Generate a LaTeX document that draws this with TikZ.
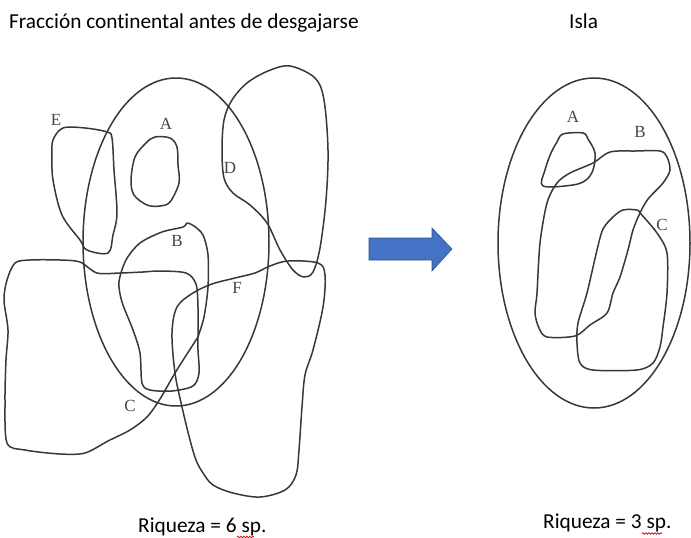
\documentclass[tikz,border=0pt]{standalone}
\usepackage{fontspec}
\setmainfont{Carlito}[Ligatures=NoCommon]
\newfontfamily\lblfont{Liberation Serif}
\usetikzlibrary{decorations.pathmorphing}
\tikzset{
  blob/.style={draw=black!78, line width=1.5pt, line join=round},
  lbl/.style={font=\lblfont\fontsize{17}{17}\selectfont, text=black!72, inner sep=0pt},
  ttl/.style={font=\fontsize{21.3}{21.3}\selectfont, inner sep=0pt, anchor=base west},
  squig/.style={draw=red!80!black, line width=0.7pt, decorate, decoration={snake, amplitude=0.8pt, segment length=3pt}}
}
\begin{document}
\begin{tikzpicture}[x=1pt,y=-1pt]
\useasboundingbox (0,0) rectangle (691,538);
\fill[white] (0,0) rectangle (691,538);

% titles
\node[ttl] (t1) at (9,28) {Fracción continental antes de desgajarse};
\node[ttl] (t2) at (569,28) {Isla};
\node[ttl] (r1) at (138,532.5) {Riqueza = 6 sp.};
\node[ttl] (r2) at (543,528) {Riqueza = 3 sp.};
\draw[squig] (237,537) -- (254,537);
\draw[squig] (642,533.5) -- (662,533.5);

% ----- left diagram -----
\draw[blob] (176,242) ellipse [x radius=93, y radius=164];

% E
\draw[blob] plot[smooth cycle, tension=0.55] coordinates {
 (53,140) (63,128) (85,128) (107,132) (112,138) (114,170) (117,213)
 (113,235) (108,253) (87,250) (80,240) (62,215) (53,180) (52,155)};
% A
\draw[blob] plot[smooth cycle, tension=0.55] coordinates {
 (155,137) (170,138) (177,147) (178,165) (179,183) (170,202) (160,206)
 (147,205) (134,195) (131,180) (135,157) (146,143)};
% D
\draw[blob] plot[smooth cycle, tension=0.55] coordinates {
 (290,66) (315,78) (324,100) (328,150) (326,200) (320,248) (313,272)
 (304,277) (293,270) (280,250) (267,223) (250,205) (233,193) (224,178)
 (222,150) (224,120) (232,100) (247,83) (268,71)};
% B
\draw[blob] plot[smooth, tension=0.5] coordinates {
 (198,337) (204,317) (208,287) (208,255) (203,235) (194,226) (187,223)
 (183,227) (162,232) (140,243) (126,260) (119,282) (122,302) (133,330)
 (140,353) (142,383) (150,390) (172,391) (193,386) (199,373) (198,350) (198,337)};
% C
\draw[blob] plot[smooth, tension=0.5] coordinates {
 (198,337) (198,307) (196,284) (186,273) (160,271) (143,272) (120,273)
 (97,273) (80,262) (60,260) (30,260) (15,263) (7,280) (4,300) (8,330)
 (6,360) (5,400) (7,443) (25,450) (60,454) (85,453) (108,441) (130,430)
 (147,417) (160,399) (175,373) (187,354) (198,337)};
% F
\draw[blob] plot[smooth cycle, tension=0.55] coordinates {
 (288,261) (318,263) (325,275) (323,307) (313,350) (305,375) (302,407)
 (299,450) (296,475) (285,490) (260,497) (233,493) (213,485) (203,473)
 (196,460) (190,440) (182,407) (175,373) (172,333) (177,307) (193,293)
 (212,284) (235,278) (255,273) (270,266)};

\node[lbl] (lE) at (56,120) {E};
\node[lbl] (lA) at (166,124) {A};
\node[lbl] (lD) at (230,168) {D};
\node[lbl] (lB) at (177,241) {B};
\node[lbl] (lF) at (237,288) {F};
\node[lbl] (lC) at (130,406) {C};

% ----- arrow -----
\fill[fill={rgb,255:red,68;green,114;blue,196}, draw={rgb,255:red,47;green,82;blue,143}, line width=0.6pt]
 (369,238) -- (432,238) -- (432,228) -- (452,249) -- (432,271) -- (432,260) -- (369,260) -- cycle;

% ----- right diagram -----
\draw[blob] (594,243) ellipse [x radius=96, y radius=165];
% A
\draw[blob] plot[smooth cycle, tension=0.55] coordinates {
 (563,134) (583,133) (588,139) (595,153) (593,170) (586,180) (573,185)
 (543,186) (545,170) (551,153) (557,142)};
% B
\draw[blob] plot[smooth cycle, tension=0.5] coordinates {
 (610,152) (635,151) (660,151) (667,157) (670,170) (663,183) (648,199)
 (640,213) (633,230) (628,250) (620,277) (613,293) (607,313) (590,325)
 (575,336) (547,337) (539,328) (535,313) (537,293) (540,243) (547,203)
 (557,183) (570,173) (593,163)};
% C
\draw[blob] plot[smooth cycle, tension=0.5] coordinates {
 (623,210) (637,210) (641,214) (657,233) (667,253) (667,293) (663,327)
 (660,347) (653,363) (637,370) (593,370) (580,363) (577,343) (578,323)
 (587,293) (597,250) (603,229) (613,217)};

\node[lbl] (rA) at (573,117) {A};
\node[lbl] (rB) at (640,132) {B};
\node[lbl] (rC) at (662,225) {C};
\end{tikzpicture}
\end{document}
